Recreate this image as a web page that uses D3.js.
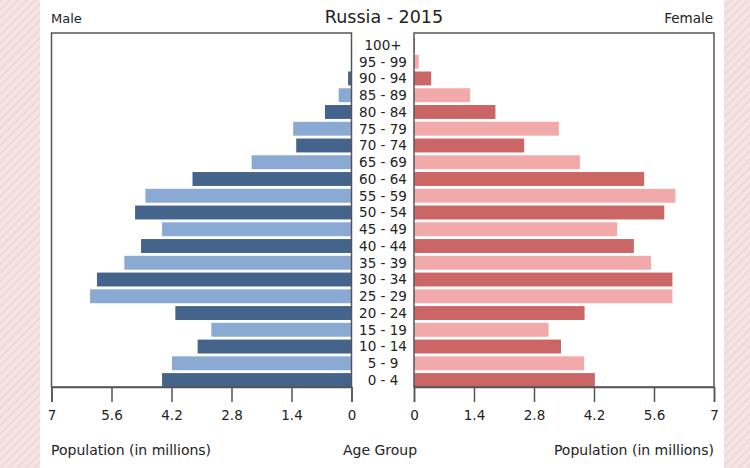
<!DOCTYPE html>
<html>
<head>
<meta charset="utf-8">
<script src="https://cdn.jsdelivr.net/npm/d3@7"></script>
<style>
  body { margin: 0; background: #fff; }
  text { font-family: "DejaVu Sans", sans-serif; fill: #222; }
</style>
</head>
<body>
<svg id="pyramid"></svg>
<script>
// age groups, bottom to top
const ageGroups = ["0 - 4", "5 - 9", "10 - 14", "15 - 19", "20 - 24", "25 - 29", "30 - 34",
  "35 - 39", "40 - 44", "45 - 49", "50 - 54", "55 - 59", "60 - 64", "65 - 69",
  "70 - 74", "75 - 79", "80 - 84", "85 - 89", "90 - 94", "95 - 99", "100+"];

// population in millions
const male = [4.42, 4.19, 3.59, 3.27, 4.11, 6.10, 5.94, 5.30, 4.91, 4.42, 5.05, 4.81,
  3.71, 2.33, 1.29, 1.36, 0.62, 0.30, 0.08, 0.01, 0.005];
const female = [4.22, 3.97, 3.43, 3.14, 3.98, 6.03, 6.03, 5.53, 5.13, 4.74, 5.84, 6.10,
  5.37, 3.87, 2.57, 3.38, 1.90, 1.31, 0.40, 0.11, 0.02];

const tickValues = [0, 1.4, 2.8, 4.2, 5.6, 7];

const W = 750, H = 468;
const svg = d3.select("#pyramid").attr("width", W).attr("height", H);

// striped pink page background on the sides
const defs = svg.append("defs");
const pat = defs.append("pattern")
  .attr("id", "stripes")
  .attr("width", 6).attr("height", 6)
  .attr("patternUnits", "userSpaceOnUse")
  .attr("patternTransform", "rotate(45)");
pat.append("rect").attr("width", 6).attr("height", 6).attr("fill", "#f4e4e4");
pat.append("rect").attr("width", 2).attr("height", 6).attr("fill", "#eed8d8");

svg.append("rect").attr("width", W).attr("height", H).attr("fill", "url(#stripes)");
svg.append("rect").attr("x", 40).attr("width", 684).attr("height", H).attr("fill", "#fff");

// panel geometry
const panelTop = 33, panelBottom = 387;
const leftX = [51.5, 351.5], rightX = [414, 714];

const xL = d3.scaleLinear().domain([7, 0]).range(leftX);
const xR = d3.scaleLinear().domain([0, 7]).range(rightX);

const y = d3.scaleBand()
  .domain(ageGroups)
  .range([panelBottom, 38])
  .paddingInner(0.17)
  .paddingOuter(0);

const colMale = ["#44648c", "#8aaad4"];
const colFemale = ["#cc6566", "#f2a9aa"];

const rows = ageGroups.map((g, i) => ({ group: g, m: male[i], f: female[i], i: i }));

// male bars
svg.append("g").selectAll("rect")
  .data(rows)
  .join("rect")
    .attr("x", d => xL(d.m))
    .attr("width", d => xL(0) - xL(d.m))
    .attr("y", d => y(d.group))
    .attr("height", y.bandwidth())
    .attr("fill", d => colMale[d.i % 2]);

// female bars
svg.append("g").selectAll("rect")
  .data(rows)
  .join("rect")
    .attr("x", xR(0))
    .attr("width", d => xR(d.f) - xR(0))
    .attr("y", d => y(d.group))
    .attr("height", y.bandwidth())
    .attr("fill", d => colFemale[d.i % 2]);

// panel frames
[leftX, rightX].forEach(r => {
  svg.append("rect")
    .attr("x", r[0]).attr("y", panelTop)
    .attr("width", r[1] - r[0]).attr("height", panelBottom - panelTop)
    .attr("fill", "none")
    .attr("stroke", "#555")
    .attr("stroke-width", 1.5);
});

// axes
const fmt = d => d === 0 ? "0" : (d === 7 ? "7" : d3.format(".1f")(d));
const axL = svg.append("g")
  .attr("transform", `translate(0,${panelBottom})`)
  .call(d3.axisBottom(xL).tickValues(tickValues).tickFormat(fmt).tickSize(15).tickPadding(8));
const axR = svg.append("g")
  .attr("transform", `translate(0,${panelBottom})`)
  .call(d3.axisBottom(xR).tickValues(tickValues).tickFormat(fmt).tickSize(15).tickPadding(8));
[axL, axR].forEach(a => {
  a.select(".domain").attr("stroke", "#555").attr("stroke-width", 1.5);
  a.selectAll(".tick line").attr("stroke", "#555").attr("stroke-width", 1.5);
  a.selectAll(".tick text").attr("font-size", 13.5).attr("fill", "#222")
    .style("font-family", "DejaVu Sans, sans-serif");
});

// age group labels
svg.append("g").selectAll("text")
  .data(rows)
  .join("text")
    .attr("x", 383)
    .attr("y", d => y(d.group) + y.bandwidth() / 2)
    .attr("dy", "0.36em")
    .attr("text-anchor", "middle")
    .attr("font-size", 13.5)
    .text(d => d.group);

// titles
svg.append("text").attr("x", 384).attr("y", 23).attr("text-anchor", "middle")
  .attr("font-size", 17.5).text("Russia - 2015");
svg.append("text").attr("x", 51).attr("y", 23).attr("font-size", 13).text("Male");
svg.append("text").attr("x", 713).attr("y", 23).attr("text-anchor", "end")
  .attr("font-size", 13.5).text("Female");

svg.append("text").attr("x", 51).attr("y", 455).attr("font-size", 14)
  .text("Population (in millions)");
svg.append("text").attr("x", 380).attr("y", 455).attr("text-anchor", "middle")
  .attr("font-size", 14).text("Age Group");
svg.append("text").attr("x", 714).attr("y", 455).attr("text-anchor", "end")
  .attr("font-size", 14).text("Population (in millions)");
</script>
</body>
</html>
